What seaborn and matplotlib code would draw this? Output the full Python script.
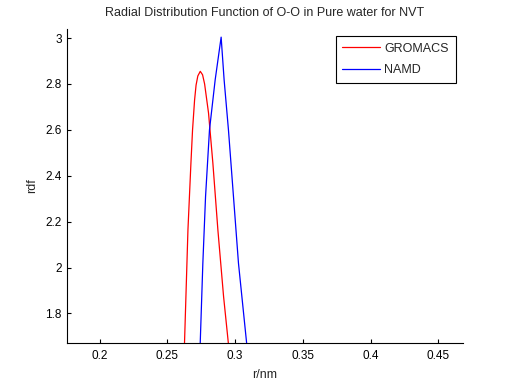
import numpy as np
import pandas as pd
import seaborn as sns
import matplotlib
matplotlib.use("Agg")
import matplotlib.pyplot as plt
from matplotlib.ticker import FormatStrFormatter

# Values (r in nm, g(r) dimensionless)
gromacs_r = [0.2613, 0.2627, 0.2652, 0.2674, 0.2686, 0.2701, 0.2712, 0.2725, 0.2743,
             0.2760, 0.2775, 0.2804, 0.2836, 0.2873, 0.2915, 0.2949, 0.2997]
gromacs_g = [1.40, 1.678, 2.164, 2.455, 2.600, 2.730, 2.795, 2.835, 2.855,
             2.840, 2.800, 2.673, 2.455, 2.164, 1.874, 1.678, 1.40]

namd_r = [0.2728, 0.2743, 0.2762, 0.2782, 0.2811, 0.2853, 0.2897,
          0.2919, 0.2951, 0.2988, 0.3025, 0.3084, 0.3132]
namd_g = [1.40, 1.678, 2.019, 2.310, 2.600, 2.818, 3.004,
          2.818, 2.600, 2.310, 2.019, 1.678, 1.40]

x_ticks = [0.2, 0.25, 0.3, 0.35, 0.4, 0.45]
y_ticks = [1.8, 2.0, 2.2, 2.4, 2.6, 2.8, 3.0]

df = pd.concat([
    pd.DataFrame({"r": gromacs_r, "rdf": gromacs_g, "code": "GROMACS"}),
    pd.DataFrame({"r": namd_r, "rdf": namd_g, "code": "NAMD"}),
])

sns.set_style("ticks")
plt.rcParams["font.family"] = ["Liberation Sans", "DejaVu Sans"]
plt.rcParams["xtick.direction"] = "in"
plt.rcParams["ytick.direction"] = "in"

fig = plt.figure(figsize=(5.12, 3.85), dpi=100)
ax = fig.add_axes([0.13, 0.11, 0.775, 0.815])

sns.lineplot(data=df, x="r", y="rdf", hue="code", palette={"GROMACS": "#ff0000", "NAMD": "#0000ff"},
             estimator=None, sort=False, linewidth=0.9, ax=ax)

ax.set_xlim(0.1756, 0.4685)
ax.set_ylim(1.673, 3.04)
ax.set_xticks(x_ticks)
ax.set_yticks(y_ticks)
ax.xaxis.set_major_formatter(FormatStrFormatter("%g"))
ax.yaxis.set_major_formatter(FormatStrFormatter("%g"))
ax.tick_params(labelsize=8.5, length=3, width=0.8, colors="black")
ax.tick_params(axis="x", pad=5)
sns.despine(ax=ax)
for s in ["left", "bottom"]:
    ax.spines[s].set_linewidth(0.8)
    ax.spines[s].set_color("black")

ax.set_xlabel("r/nm", fontsize=9, labelpad=5)
ax.set_ylabel("rdf", fontsize=9, labelpad=5)
ax.set_title("Radial Distribution Function of O-O in Pure water for NVT", fontsize=9, pad=9)

leg = ax.legend(loc="upper right", fontsize=9, fancybox=False, framealpha=1,
                edgecolor="black", handlelength=3.0, handletextpad=0.35,
                borderpad=0.55, labelspacing=0.75, borderaxespad=0.3,
                bbox_to_anchor=(0.99, 0.99))
leg.get_frame().set_linewidth(0.8)

fig.savefig("out.png", dpi=100)
